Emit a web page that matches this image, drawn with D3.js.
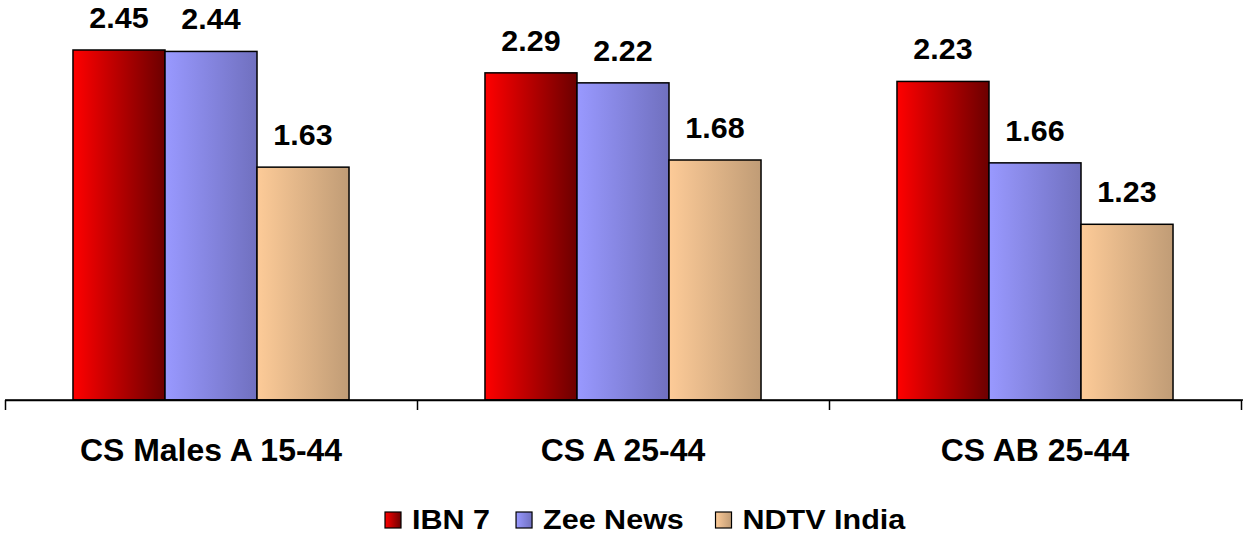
<!DOCTYPE html>
<html>
<head>
<meta charset="utf-8">
<script src="https://cdn.jsdelivr.net/npm/d3@7"></script>
<style>
    body { margin: 0; background: #fff; }
    text { font-family: "Liberation Sans", Arial, sans-serif; font-weight: bold; fill: #000; }
</style>
</head>
<body>
<div id="chart"></div>
<script>
// data
var categories = ["CS Males A 15-44", "CS A 25-44", "CS AB 25-44"];
var seriesNames = ["IBN 7", "Zee News", "NDTV India"];
var ibn7 = [2.45, 2.29, 2.23];
var zeeNews = [2.44, 2.22, 1.66];
var ndtvIndia = [1.63, 1.68, 1.23];

// gradient colours (left, right) per series
var gradLeft = ["#ff0000", "#9999ff", "#fdcb98"];
var gradRight = ["#6c0000", "#7070bf", "#c09c76"];

var svgWidth = 1243;
var svgHeight = 535;
var baseY = 400;

var seriesValues = [ibn7, zeeNews, ndtvIndia];
var rows = categories.map(function(c, i) {
    return {
        cat: c,
        vals: seriesNames.map(function(s, j) {
            return { key: s, idx: j, value: seriesValues[j][i] };
        })
    };
});

// widen text a little, the original is slightly stretched sideways
function stretch(sel, k) {
    sel.each(function() {
        var w = this.getComputedTextLength();
        d3.select(this)
            .attr("textLength", w * k)
            .attr("lengthAdjust", "spacingAndGlyphs");
    });
}

var svg = d3.select("#chart")
    .append("svg")
    .attr("width", svgWidth)
    .attr("height", svgHeight);

var defs = svg.append("defs");
seriesNames.forEach(function(s, j) {
    var g = defs.append("linearGradient")
        .attr("id", "grad" + j)
        .attr("x1", "0%").attr("x2", "100%")
        .attr("y1", "0%").attr("y2", "0%");
    g.append("stop").attr("offset", "0%").attr("stop-color", gradLeft[j]);
    g.append("stop").attr("offset", "100%").attr("stop-color", gradRight[j]);
});

// scales
var x0 = d3.scaleBand()
    .domain(categories)
    .range([5, 1241])
    .paddingInner(0.33)
    .paddingOuter(0.165);

var x1 = d3.scaleBand()
    .domain(seriesNames)
    .range([0, x0.bandwidth()]);

var y = d3.scaleLinear()
    .domain([0, 2.8])
    .range([baseY, 0]);

// bars
var groups = svg.selectAll(".grp")
    .data(rows)
    .enter()
    .append("g")
    .attr("class", "grp")
    .attr("transform", d => `translate(${x0(d.cat)}, 0)`);

groups.selectAll("rect")
    .data(d => d.vals)
    .enter()
    .append("rect")
    .attr("x", d => x1(d.key))
    .attr("y", d => y(d.value))
    .attr("width", x1.bandwidth())
    .attr("height", d => baseY - y(d.value))
    .attr("fill", d => `url(#grad${d.idx})`)
    .attr("stroke", "#000")
    .attr("stroke-width", 1.5);

groups.selectAll(".val")
    .data(d => d.vals)
    .enter()
    .append("text")
    .attr("class", "val")
    .attr("x", d => x1(d.key) + x1.bandwidth() / 2)
    .attr("y", d => y(d.value) - 22)
    .attr("text-anchor", "middle")
    .style("font-size", "29px")
    .text(d => d.value.toFixed(2))
    .call(stretch, 1.05);

// axis with ticks at category boundaries
var edge = d3.scaleLinear().domain([0, categories.length]).range([5, 1241]);
svg.append("g")
    .attr("transform", `translate(0, ${baseY})`)
    .call(d3.axisBottom(edge)
        .tickValues(d3.range(categories.length + 1))
        .tickSize(10)
        .tickSizeOuter(0)
        .tickFormat(""))
    .call(g => g.selectAll("path, line").attr("stroke", "#000").attr("stroke-width", 1.5));

svg.append("line")
    .attr("x1", 5).attr("x2", 1243)
    .attr("y1", baseY).attr("y2", baseY)
    .attr("stroke", "#000").attr("stroke-width", 1.5);

// category labels
var catAxis = svg.append("g")
    .attr("transform", `translate(0, ${baseY})`)
    .call(d3.axisBottom(x0).tickSize(0).tickPadding(0));
catAxis.select(".domain").remove();
catAxis.selectAll("text")
    .attr("y", 61)
    .attr("dy", 0)
    .style("font-size", "31px")
    .style("font-family", "'Liberation Sans', Arial, sans-serif")
    .style("font-weight", "bold")
    .attr("fill", "#000")
    .call(stretch, 1.03);

// legend
var legend = svg.append("g");
var lx = 385;
seriesNames.forEach(function(s, j) {
    var item = legend.append("g").attr("transform", `translate(${lx}, 0)`);
    item.append("rect")
        .attr("x", 0).attr("y", 512)
        .attr("width", 16).attr("height", 16)
        .attr("fill", `url(#grad${j})`)
        .attr("stroke", "#000")
        .attr("stroke-width", 1.2);
    var t = item.append("text")
        .attr("x", 27)
        .attr("y", 529)
        .style("font-size", "28px")
        .text(s)
        .call(stretch, 1.09);
    lx += 27 + t.node().getComputedTextLength() * 1.09 + 19;
});
</script>
</body>
</html>
